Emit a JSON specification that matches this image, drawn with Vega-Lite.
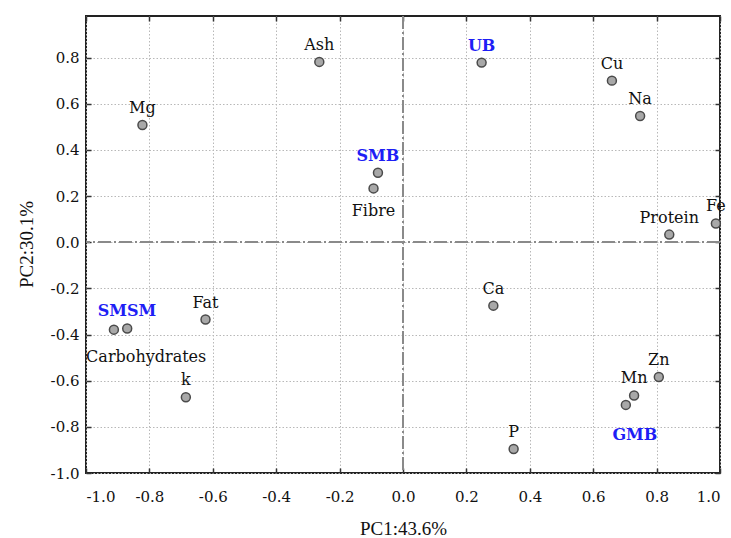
{
  "$schema": "https://vega.github.io/schema/vega-lite/v6.json",
  "width": 634,
  "height": 457,
  "autosize": {"type": "none"},
  "padding": {"left": 86, "top": 16, "right": 11, "bottom": 65},
  "background": "white",
  "config": {
    "view": {"stroke": "#222222", "strokeWidth": 2},
    "font": "DejaVu Serif",
    "axis": {
      "labelFont": "DejaVu Serif",
      "titleFont": "Liberation Serif",
      "labelFontSize": 15,
      "titleFontSize": 19,
      "titleFontWeight": "normal",
      "labelColor": "#111111",
      "titleColor": "#111111",
      "domain": false,
      "tickColor": "#333333",
      "tickSize": -5,
      "tickWidth": 1.5,
      "gridColor": "#b8b8b8",
      "gridDash": [1.5, 2],
      "gridWidth": 1
    }
  },
  "resolve": {"axis": {"x": "independent", "y": "independent"}},
  "data": {
    "values": [
      {"name": "Mg", "type": "variable", "pc1": -0.822, "pc2": 0.508},
      {"name": "Ash", "type": "variable", "pc1": -0.264, "pc2": 0.781},
      {"name": "UB", "type": "sample", "pc1": 0.248, "pc2": 0.778},
      {"name": "SMB", "type": "sample", "pc1": -0.079, "pc2": 0.301},
      {"name": "Fibre", "type": "variable", "pc1": -0.093, "pc2": 0.233},
      {"name": "Cu", "type": "variable", "pc1": 0.659, "pc2": 0.7},
      {"name": "Na", "type": "variable", "pc1": 0.748, "pc2": 0.547},
      {"name": "Protein", "type": "variable", "pc1": 0.84, "pc2": 0.033},
      {"name": "Fe", "type": "variable", "pc1": 0.987, "pc2": 0.081},
      {"name": "Ca", "type": "variable", "pc1": 0.285, "pc2": -0.275},
      {"name": "Zn", "type": "variable", "pc1": 0.807, "pc2": -0.584},
      {"name": "Mn", "type": "variable", "pc1": 0.729, "pc2": -0.664},
      {"name": "GMB", "type": "sample", "pc1": 0.703, "pc2": -0.705},
      {"name": "P", "type": "variable", "pc1": 0.349, "pc2": -0.896},
      {"name": "SMSM", "type": "sample", "pc1": -0.912, "pc2": -0.379},
      {"name": "Carbohydrates", "type": "variable", "pc1": -0.87, "pc2": -0.374},
      {"name": "Fat", "type": "variable", "pc1": -0.623, "pc2": -0.335},
      {"name": "k", "type": "variable", "pc1": -0.685, "pc2": -0.672}
    ]
  },
  "encoding": {
    "x": {
      "field": "pc1", "type": "quantitative",
      "scale": {"domain": [-1, 1], "nice": false, "zero": false},
      "axis": null
    },
    "y": {
      "field": "pc2", "type": "quantitative",
      "scale": {"domain": [-1, 0.98], "nice": false, "zero": false},
      "axis": null
    }
  },
  "layer": [
    {
      "mark": {"type": "rule", "color": "#8a8a8a", "strokeWidth": 1.6, "strokeDash": [13, 3, 2, 3]},
      "encoding": {
        "x": {"datum": 0, "type": "quantitative",
          "axis": {"orient": "top", "title": null, "labels": false, "grid": false,
            "values": [-1, -0.8, -0.6, -0.4, -0.2, 0, 0.2, 0.4, 0.6, 0.8, 1]}},
        "y": null
      }
    },
    {
      "mark": {"type": "rule", "color": "#8a8a8a", "strokeWidth": 1.6, "strokeDash": [13, 3, 2, 3]},
      "encoding": {
        "y": {"datum": 0, "type": "quantitative",
          "axis": {"orient": "right", "title": null, "labels": false, "grid": false,
            "values": [-1, -0.8, -0.6, -0.4, -0.2, 0, 0.2, 0.4, 0.6, 0.8]}},
        "x": null
      }
    },
    {
      "mark": {"type": "point", "shape": "circle", "filled": true, "size": 80, "fill": "#a8a8a8", "stroke": "#4a4a4a", "strokeWidth": 1.5, "opacity": 1},
      "encoding": {
        "x": {
          "field": "pc1", "type": "quantitative",
          "axis": {
            "orient": "bottom",
            "grid": true,
            "zindex": 0,
            "title": "PC1:43.6%",
            "values": [-1, -0.8, -0.6, -0.4, -0.2, 0, 0.2, 0.4, 0.6, 0.8, 1],
            "labelExpr": "replace(format(datum.value, '.1f'), '−', '-')",
            "labelPadding": 21,
            "titleY": 55,
            "titleBaseline": "middle"
          }
        },
        "y": {
          "field": "pc2", "type": "quantitative",
          "axis": {
            "orient": "left",
            "grid": true,
            "zindex": 0,
            "title": "PC2:30.1%",
            "values": [-1, -0.8, -0.6, -0.4, -0.2, 0, 0.2, 0.4, 0.6, 0.8],
            "labelExpr": "replace(format(datum.value, '.1f'), '−', '-')",
            "labelPadding": 12,
            "titleX": -60,
            "titleY": 228,
            "titleAngle": -90,
            "titleAlign": "center",
            "titleBaseline": "middle"
          }
        }
      }
    },
    {
      "transform": [{"filter": "datum.type === 'variable' && datum.name !== 'Fibre' && datum.name !== 'Carbohydrates'"}],
      "mark": {"type": "text", "fontSize": 16, "color": "#111111", "baseline": "middle", "dy": -17},
      "encoding": {"text": {"field": "name"}}
    },
    {
      "transform": [{"filter": "datum.name === 'Fibre'"}],
      "mark": {"type": "text", "fontSize": 16, "color": "#111111", "baseline": "middle", "dy": 23},
      "encoding": {"text": {"field": "name"}}
    },
    {
      "transform": [{"filter": "datum.name === 'Carbohydrates'"}],
      "mark": {"type": "text", "fontSize": 16, "color": "#111111", "baseline": "middle", "dx": 19, "dy": 28},
      "encoding": {"text": {"field": "name"}}
    },
    {
      "transform": [{"filter": "datum.name === 'UB' || datum.name === 'SMB'"}],
      "mark": {"type": "text", "fontSize": 16, "fontWeight": "bold", "color": "#1e1ef5", "baseline": "middle", "dy": -17},
      "encoding": {"text": {"field": "name"}}
    },
    {
      "transform": [{"filter": "datum.name === 'SMSM'"}],
      "mark": {"type": "text", "fontSize": 16, "fontWeight": "bold", "color": "#1e1ef5", "baseline": "middle", "dx": 13, "dy": -19},
      "encoding": {"text": {"field": "name"}}
    },
    {
      "transform": [{"filter": "datum.name === 'GMB'"}],
      "mark": {"type": "text", "fontSize": 16, "fontWeight": "bold", "color": "#1e1ef5", "baseline": "middle", "dx": 9, "dy": 30},
      "encoding": {"text": {"field": "name"}}
    }
  ]
}
